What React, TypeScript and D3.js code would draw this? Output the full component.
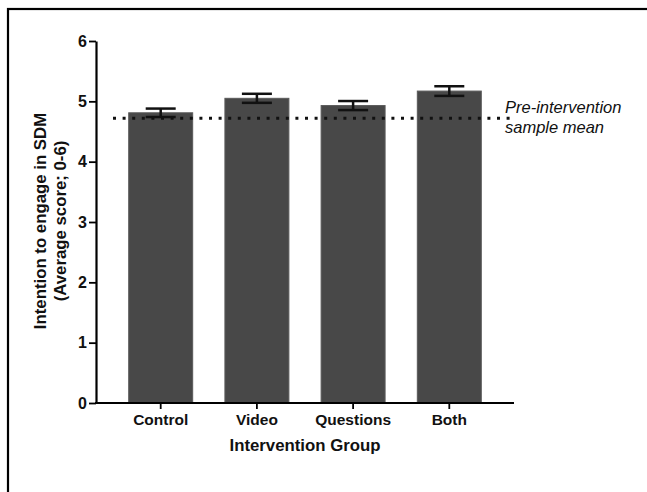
import React, { useEffect, useRef } from "react";
import * as d3 from "d3";

const groups = ["Control", "Video", "Questions", "Both"];
const means = [4.81, 5.05, 4.93, 5.17];
const sems = [0.07, 0.075, 0.075, 0.08];
const preMean = 4.72;
const yTicks = [0, 1, 2, 3, 4, 5, 6];
const noteLines = ["Pre-intervention", "sample mean"];

const App = () => {
  const ref = useRef<SVGSVGElement>(null);

  useEffect(() => {
    const width = 647;
    const height = 492;
    const marginLeft = 96;
    const marginRight = 133;
    const marginTop = 41;
    const marginBottom = 89;
    const font = "'Liberation Sans', Arial, sans-serif";

    const svg = d3
      .select(ref.current)
      .attr("width", width)
      .attr("height", height)
      .attr("viewBox", [0, 0, width, height].join(" "))
      .style("position", "absolute")
      .style("left", "0px")
      .style("top", "0px")
      .style("background", "#fff");

    svg.selectAll("*").remove();

    // frame around the figure (right and bottom edges are cropped off)
    svg
      .append("rect")
      .attr("x", 8)
      .attr("y", 9)
      .attr("width", width + 20)
      .attr("height", height + 20)
      .attr("fill", "none")
      .attr("stroke", "#000")
      .attr("stroke-width", 2.2);

    const x = d3
      .scaleBand()
      .domain(groups)
      .range([marginLeft, width - marginRight])
      .paddingInner(0.335)
      .paddingOuter(0.34);

    const y = d3
      .scaleLinear()
      .domain([0, 6])
      .range([height - marginBottom, marginTop]);

    const data = groups.map((g, i) => ({ group: g, mean: means[i], sem: sems[i] }));

    // bars
    svg
      .append("g")
      .selectAll("rect")
      .data(data)
      .join("rect")
      .attr("x", (d) => x(d.group)!)
      .attr("y", (d) => y(d.mean))
      .attr("width", x.bandwidth())
      .attr("height", (d) => y(0) - y(d.mean))
      .attr("fill", "#484848")
      .attr("stroke", "#5a5a5a")
      .attr("stroke-width", 1);

    // pre-intervention mean, dotted
    svg
      .append("line")
      .attr("x1", 113)
      .attr("x2", 510)
      .attr("y1", y(preMean))
      .attr("y2", y(preMean))
      .attr("stroke", "#111")
      .attr("stroke-width", 3)
      .attr("stroke-dasharray", "3 6.6");

    // error bars
    const capHalf = 15;
    const err = svg.append("g").attr("stroke", "#111").attr("stroke-width", 2.5);
    data.forEach((d) => {
      const cx = x(d.group)! + x.bandwidth() / 2;
      err
        .append("line")
        .attr("x1", cx)
        .attr("x2", cx)
        .attr("y1", y(d.mean + d.sem))
        .attr("y2", y(d.mean - d.sem));
      [d.mean + d.sem, d.mean - d.sem].forEach((v) => {
        err
          .append("line")
          .attr("x1", cx - capHalf)
          .attr("x2", cx + capHalf)
          .attr("y1", y(v))
          .attr("y2", y(v));
      });
    });

    // y axis
    svg
      .append("g")
      .attr("transform", `translate(${marginLeft},0)`)
      .call(d3.axisLeft(y).tickValues(yTicks).tickFormat(d3.format("d")).tickSize(7).tickSizeOuter(0))
      .attr("font-size", null)
      .attr("font-family", null)
      .call((g) => g.select(".domain").attr("stroke-width", 2.2))
      .call((g) => g.selectAll(".tick line").attr("stroke-width", 1.8))
      .call((g) =>
        g
          .selectAll(".tick text")
          .attr("x", -9)
          .style("font-family", font)
          .style("font-weight", "bold")
          .style("font-size", "16px")
          .attr("fill", "#111")
      );

    // x axis
    svg
      .append("g")
      .attr("transform", `translate(0,${y(0)})`)
      .call(d3.axisBottom(x).tickSize(6).tickSizeOuter(0))
      .attr("font-size", null)
      .attr("font-family", null)
      .call((g) => g.select(".domain").attr("stroke-width", 2.2).attr("d", `M${marginLeft - 1},0H${width - marginRight}`))
      .call((g) => g.selectAll(".tick line").attr("stroke-width", 1.8))
      .call((g) =>
        g
          .selectAll(".tick text")
          .attr("y", 11)
          .style("font-family", font)
          .style("font-weight", "bold")
          .style("font-size", "15.5px")
          .attr("fill", "#111")
      );

    // axis titles
    svg
      .append("text")
      .attr("x", (marginLeft + width - marginRight) / 2)
      .attr("y", 451)
      .attr("text-anchor", "middle")
      .attr("font-family", font)
      .attr("font-weight", "bold")
      .attr("font-size", 16.8)
      .attr("fill", "#111")
      .text("Intervention Group");

    const yTitle = svg
      .append("text")
      .attr("transform", "translate(46,221) rotate(-90)")
      .attr("text-anchor", "middle")
      .attr("font-family", font)
      .attr("font-weight", "bold")
      .attr("font-size", 16.8)
      .attr("fill", "#111");
    yTitle.append("tspan").attr("x", 0).attr("dy", 0).text("Intention to engage in SDM");
    yTitle.append("tspan").attr("x", 0).attr("dy", 20).text("(Average score; 0-6)");

    // annotation
    const note = svg
      .append("text")
      .attr("x", 505)
      .attr("y", 113)
      .attr("font-family", font)
      .attr("font-style", "italic")
      .attr("font-size", 16.5)
      .attr("fill", "#111");
    noteLines.forEach((t, i) => {
      note.append("tspan").attr("x", 505).attr("dy", i === 0 ? 0 : 20).text(t);
    });
  }, []);

  return <svg ref={ref}></svg>;
};

export default App;
